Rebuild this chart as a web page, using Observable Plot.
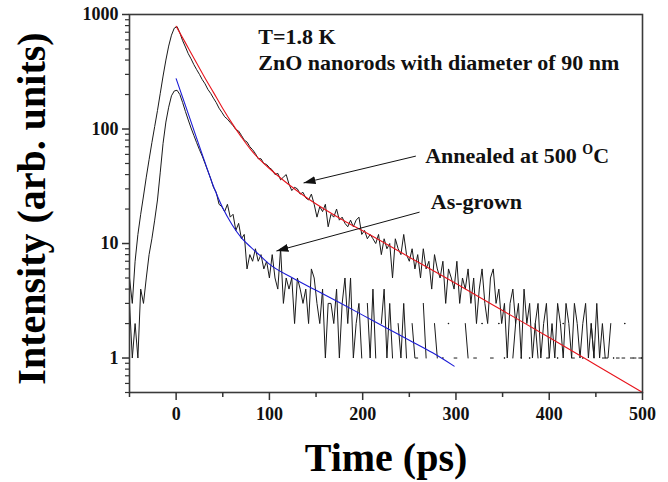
<!DOCTYPE html>
<html><head><meta charset="utf-8">
<script src="https://cdn.jsdelivr.net/npm/d3@7"></script>
<script src="https://cdn.jsdelivr.net/npm/@observablehq/plot@0.6"></script>
<style>body{margin:0;background:#fff}</style>
</head><body><div id="chart"></div>
<script>
// Time axis sampling of the streak-camera traces (ps)
const timeStart = -50, timeStep = 3;

// Annealed at 500 °C: measured PL intensity (counts)
const annealed = [
5,3,7,12,18,26,38,54,76,105,
145,205,290,400,530,660,760,785,690,590,
520,455,410,365,330,300,270,248,222,205,
186,170,152,140,128,122,114,107,99,96,
88,80,77,70,66,61,55,55,50,49,
46,44,40,41,36,38,40,33,29,31,
30,27,28,25,24,27,22,17,21,19,
22,14,18,17,20,16,17,15,14,16,
14,16,17,12,13,11,12,11,10,12,
8,11,9,10,5,11,9,8,12,8,
7,9,6,8,5,9,6,7,4,8,
6,5,7,3,6,5,4,7,3,5,
4,6,3,5,2,4,6,3,2,5,
6,3,4,2,3,1,3,4,2,3,
1,4,2,3,1,2,3,1,2,3,
1,2,1,3,2,1,3,2,1,3,
2,1,2,3,1,2,1,3,1,2,
1,1,2,0,1,1,0,2,0,1,
1,0,1,1
];

// As-grown: measured PL intensity (counts)
const asGrown = [
3,1,2,1,4,3,5,8,11,16,
24,42,75,115,155,195,215,218,200,170,
142,120,102,88,76,66,58,50,43,37,
31,28,22,21,19,22,17,18,13,15,
11,12,6,8,7,9,7,8,6,7,
5,8,5,4,9,3,5,4,5,2,
5,4,3,4,2,6,5,3,2,4,
1,3,3,2,4,1,3,5,2,5,
1,2,3,1,0,3,1,4,1,0,
2,4,1,3,1,0,2,1,3,1,
0,2,1,1,0,3,1,0,0,2,
1,0,1,0,2,0,1,1,0,0,
2,1,0,1,1,0,2,0,0,1,
1,0,2,0,1,0,0,1,2,0,
1,0,0,1,0,2,1,0,0,1,
1,0,0,1,0,2,0,0,1,1,
0,0,1,0,0,2,1,0,0,1,
1,0,0,1,0,0,1,1,0,0,
1,1,0,1
];

// Fit curves (red: annealed, blue: as-grown)
const fitAnnealedTime  = [0,10,20,30,40,50,60,70,80,90,100,110,120,140,160,180,200,250,300,350,400,450,500];
const fitAnnealedValue = [790,565,402,288,209,151,112,85,66,53.7,45.2,38.5,33.1,25.1,19.7,15.8,12.9,7.6,4.47,2.6,1.51,0.87,0.5];
const fitAsGrownTime   = [0,10,20,30,40,50,60,70,80,90,100,125,150,175,200,225,250,275,298];
const fitAsGrownValue  = [275,160,92.5,53.7,31.6,20.4,14.6,11.2,9.3,7.85,6.6,5.0,3.9,3.05,2.37,1.84,1.43,1.11,0.85];

// Ticks
const xMajorTicks = [0,100,200,300,400,500];
const xMinorTicks = [-50,50,150,250,350,450];
const yMajorTicks = [1,10,100,1000];
const yMinorTicks = [0.5,0.6,0.7,0.8,0.9,2,3,4,5,6,7,8,9,20,30,40,50,60,70,80,90,200,300,400,500,600,700,800,900];

// Annotations (data coordinates: time ps, intensity)
const noteLabels = ["T=1.8 K","ZnO nanorods with diameter of 90 nm","Annealed at 500","As-grown"];
const noteTime   = [88, 88, 267, 273];
const noteValue  = [552, 327, 50.5, 20];
const degreeLabels = ["O","C"];
const arrowFromTime  = [257, 261];
const arrowFromValue = [58, 18.8];
const arrowToTime    = [136.6, 107.5];
const arrowToValue   = [33.8, 8.6];

function series(vals){ return vals.map((v,i)=>({t: timeStart + i*timeStep, v: v>0 ? v : NaN})); }
function isolated(s){ return s.filter((d,i)=>!isNaN(d.v) && (i===0||isNaN(s[i-1].v)) && (i===s.length-1||isNaN(s[i+1].v))); }
const sA = series(annealed), sG = series(asGrown);
const fitA = fitAnnealedTime.map((t,i)=>({t, v: fitAnnealedValue[i]}));
const fitG = fitAsGrownTime.map((t,i)=>({t, v: fitAsGrownValue[i]}));
const notes = noteLabels.map((label,i)=>({label, t: noteTime[i], v: noteValue[i]}));
const arrows = arrowFromTime.map((t,i)=>({x1:t, y1:arrowFromValue[i], x2:arrowToTime[i], y2:arrowToValue[i]}));

const font = "'Liberation Serif', 'Times New Roman', serif";
const plot = Plot.plot({
  width: 668, height: 482,
  marginLeft: 129, marginRight: 26, marginTop: 14, marginBottom: 90,
  style: {fontFamily: font, background: "#fff"},
  x: {domain: [-50, 500], label: null},
  y: {type: "log", domain: [0.5, 1000], label: null},
  marks: [
    Plot.line(sA, {x: "t", y: "v", stroke: "#1a1a1a", strokeWidth: 1}),
    Plot.line(sG, {x: "t", y: "v", stroke: "#1a1a1a", strokeWidth: 1}),
    Plot.dot(isolated(sA).concat(isolated(sG)), {x: "t", y: "v", r: 0.8, fill: "#1a1a1a", stroke: null}),
    Plot.line(fitA, {x: "t", y: "v", stroke: "#e8141c", strokeWidth: 1.1, curve: "monotone-x"}),
    Plot.line(fitG, {x: "t", y: "v", stroke: "#1a1ad6", strokeWidth: 1.1, curve: "monotone-x"}),
    Plot.link(arrows, {x1: "x1", y1: "y1", x2: "x2", y2: "y2", stroke: "#111", strokeWidth: 1}),
    Plot.text(notes, {x: "t", y: "v", text: "label", textAnchor: "start", lineAnchor: "bottom", fontSize: 22, fontWeight: "bold", fill: "#111"}),
    Plot.text([degreeLabels[0]], {x: () => noteTime[2], y: () => noteValue[2], textAnchor: "start", lineAnchor: "bottom", dx: 157, dy: -9, fontSize: 14, fontWeight: "bold", fill: "#111"}),
    Plot.text([degreeLabels[1]], {x: () => noteTime[2], y: () => noteValue[2], textAnchor: "start", lineAnchor: "bottom", dx: 168, fontSize: 22, fontWeight: "bold", fill: "#111"}),
    Plot.frame({stroke: "#3a3a3a", strokeWidth: 1.6}),
    Plot.axisX(xMajorTicks, {tickSize: 8, tickPadding: 7, tickFormat: d => String(d), fontSize: 18, fontWeight: "bold", label: null, stroke: "#333", strokeWidth: 1.5, fill: "#111"}),
    Plot.axisX(xMinorTicks, {tickSize: 5, tickFormat: () => "", label: null, stroke: "#333", strokeWidth: 1.5}),
    Plot.axisY(yMajorTicks, {tickSize: 7, tickPadding: 4, tickFormat: d => String(d), fontSize: 18, fontWeight: "bold", label: null, stroke: "#333", strokeWidth: 1.5, fill: "#111"}),
    Plot.axisY(yMinorTicks, {tickSize: 4, tickFormat: () => "", label: null, stroke: "#333", strokeWidth: 1.2}),
    Plot.text(["Time (ps)"], {frameAnchor: "bottom", dy: 78, lineAnchor: "bottom", fontSize: 40, fontWeight: "bold", fill: "#000"}),
    Plot.text(["Intensity (arb. units)"], {frameAnchor: "left", rotate: -90, dx: -85, dy: 5, textAnchor: "middle", lineAnchor: "bottom", fontSize: 40, fontWeight: "bold", fill: "#000"})
  ]
});
document.getElementById("chart").appendChild(plot);

// filled arrowheads on the annotation links
const svg = d3.select(plot.tagName.toLowerCase() === "svg" ? plot : plot.querySelector("svg"));
const marker = svg.append("defs").append("marker")
  .attr("id", "arrowhead").attr("viewBox", "0 0 12 8").attr("refX", 12).attr("refY", 4)
  .attr("markerWidth", 12).attr("markerHeight", 8).attr("markerUnits", "userSpaceOnUse").attr("orient", "auto");
marker.append("path").attr("d", "M0,0L12,4L0,8Z").attr("fill", "#111");
svg.selectAll('g[aria-label="link"] path').attr("marker-end", "url(#arrowhead)");
</script>
</body></html>
